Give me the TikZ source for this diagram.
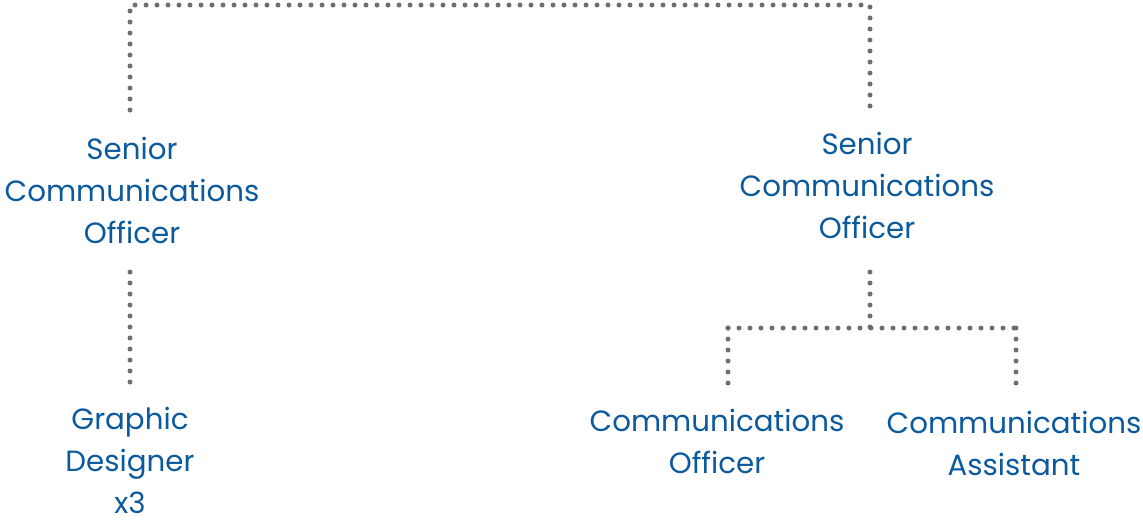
\documentclass[tikz,border=0pt]{standalone}
\usepackage{fontspec}
\setmainfont{Poppins}
\definecolor{dotgray}{HTML}{6F6F6F}
\definecolor{txtblue}{HTML}{0C5A9E}
\begin{document}
\begin{tikzpicture}[x=1pt,y=-1pt,
  conn/.style={draw=dotgray, line width=5pt, line cap=round, dash pattern=on 0pt off 11pt},
  lbl/.style={text=txtblue, align=center, inner sep=0pt, font=\fontsize{29.3}{42}\selectfont}]
\useasboundingbox (0,0) rectangle (1143,520);
\node[lbl] (lsco) at (132,190) {Senior\\Communications\\Officer};
\node[lbl] (rsco) at (867,185) {Senior\\Communications\\Officer};
\node[lbl] (gd) at (130,460) {Graphic\\Designer\\x3};
\node[lbl] (co) at (717,441) {Communications\\Officer};
\node[lbl] (ca) at (1014,443) {Communications\\Assistant};
\coordinate (topbus) at (500,5);
\coordinate (jR) at (870,328);
\coordinate (jL) at (728,328);
\coordinate (jRR) at (1016,328);
\draw[conn, shorten <=80pt, shorten >=75pt] ([xshift=-2pt]lsco.center) |- (topbus) -| ([xshift=3pt]rsco.center);
\draw[conn, shorten <=82pt, shorten >=76pt] (gd.center |- lsco.center) -- (gd.center);
\draw[conn, shorten <=87pt] (jR |- rsco.center) -- (jR);
\draw[conn] (jL) -- (jRR);
\draw[conn, shorten >=55pt] (jL) -- (jL |- co.center);
\draw[conn, shorten >=57pt] (jRR) -- (jRR |- ca.center);
\end{tikzpicture}
\end{document}
